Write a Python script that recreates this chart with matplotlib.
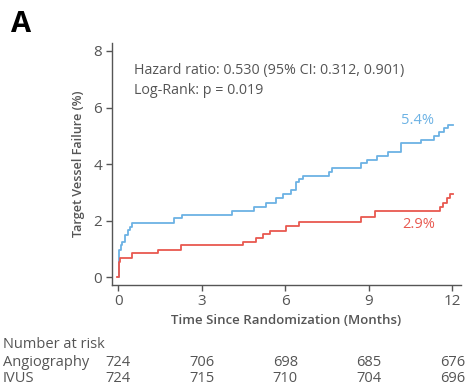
import matplotlib
matplotlib.use("Agg")
import matplotlib.pyplot as plt

plt.rcParams['font.family'] = ['Open Sans', 'DejaVu Sans']

# Angiography (blue)
angio_t = [0, 0.02, 0.04, 0.08, 0.14, 0.24, 0.33, 0.40, 0.50, 2.0, 2.27, 4.1, 4.88, 5.32,
           5.65, 5.92, 6.22, 6.40, 6.48, 6.64, 7.57, 7.66, 8.71, 8.94, 9.30, 9.67,
           10.15, 10.89, 11.33, 11.52, 11.69, 11.85, 12.02]
angio_v = [0, 0.55, 0.96, 1.14, 1.26, 1.50, 1.67, 1.79, 1.93, 2.08, 2.20, 2.36, 2.49, 2.64,
           2.79, 2.93, 3.08, 3.38, 3.49, 3.59, 3.73, 3.88, 4.05, 4.16, 4.28, 4.44,
           4.73, 4.87, 4.99, 5.14, 5.26, 5.40, 5.40]
# IVUS (red)
ivus_t = [-0.06, 0.03, 0.06, 0.50, 1.44, 2.25, 4.49, 4.93, 5.20, 5.44, 6.04, 6.50,
          8.73, 9.21, 11.55, 11.67, 11.81, 11.90, 12.02]
ivus_v = [0, 0.55, 0.67, 0.87, 0.97, 1.13, 1.26, 1.40, 1.53, 1.65, 1.81, 1.94,
          2.12, 2.35, 2.49, 2.64, 2.79, 2.93, 2.93]

x_ticks = [0, 3, 6, 9, 12]
y_ticks = [0, 2, 4, 6, 8]
risk_groups = ["Angiography", "IVUS"]
risk_angio = [724, 706, 698, 685, 676]
risk_ivus = [724, 715, 710, 704, 696]

blue = '#6cb2e4'
red = '#e8584f'
gray = '#555555'

fig = plt.figure(figsize=(4.67, 3.86), dpi=100)
ax = fig.add_axes([0.2392, 0.2624, 0.7473, 0.6262])

ax.step(angio_t, angio_v, where='post', color=blue, lw=1.3)
ax.step(ivus_t, ivus_v, where='post', color=red, lw=1.3)

ax.set_xlim(-0.24, 12.30)
ax.set_ylim(-0.26, 8.28)
ax.set_xticks(x_ticks)
ax.set_yticks(y_ticks)
for s in ['top', 'right']:
    ax.spines[s].set_visible(False)
for s in ['left', 'bottom']:
    ax.spines[s].set_color(gray)
    ax.spines[s].set_linewidth(1.0)
ax.tick_params(colors=gray, labelsize=11, length=4, width=1.0, labelcolor=gray, pad=3)

ax.set_ylabel("Target Vessel Failure (%)", fontsize=9.1, fontweight='semibold', color=gray, labelpad=6)
ax.set_xlabel("Time Since Randomization (Months)", fontsize=9.5, fontweight='semibold', color=gray, labelpad=3)

ax.text(0.064, 0.888, "Hazard ratio: 0.530 (95% CI: 0.312, 0.901)", transform=ax.transAxes,
        fontsize=10.3, color=gray, va='center', ha='left')
ax.text(0.064, 0.805, "Log-Rank: p = 0.019", transform=ax.transAxes,
        fontsize=10.3, color=gray, va='center', ha='left')

ax.text(10.75, 5.54, "5.4%", color=blue, fontsize=10.5, ha='center', va='center')
ax.text(10.79, 1.85, "2.9%", color=red, fontsize=10.5, ha='center', va='center')

fig.text(11 / 467, 1 - 24 / 386, "A", fontsize=21, fontweight='bold', color='black', va='center', ha='left')

# Number at risk table
fig.text(3 / 467, 1 - 344 / 386, "Number at risk", fontsize=10.5, color=gray, va='center', ha='left')
for row, (name, vals) in enumerate(zip(risk_groups, [risk_angio, risk_ivus])):
    yy = 1 - (362 + 17 * row) / 386
    fig.text(3 / 467, yy, name, fontsize=10.5, color=gray, va='center', ha='left')
    for t, v in zip(x_ticks, vals):
        xd = ax.transData.transform((t, 0))[0]
        xf = fig.transFigure.inverted().transform((xd, 0))[0]
        fig.text(xf, yy, str(v), fontsize=10.5, color=gray, va='center', ha='center')

fig.savefig("out.png", dpi=100)
